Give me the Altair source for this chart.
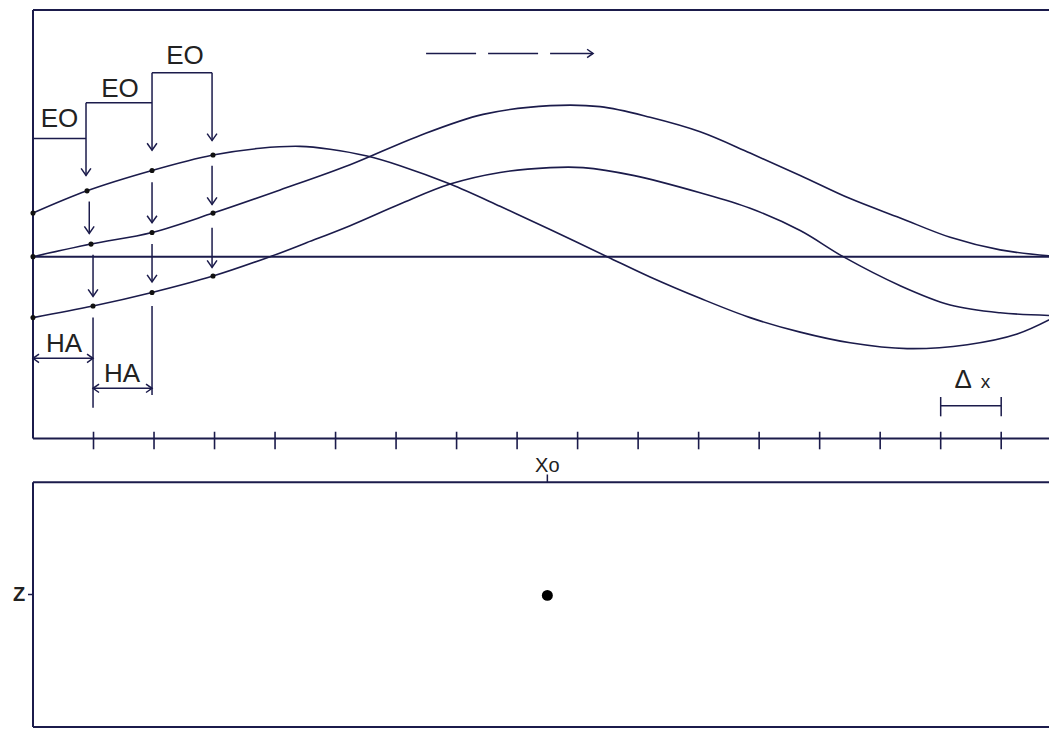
import altair as alt
import pandas as pd

INK = "#1b1b4b"
TXT = "#222222"
FONT = "Liberation Sans"

# ---- three wave curves (x in grid-step units, y relative to the centre line)
curve_a_x = [0, 0.893, 1.967, 2.975, 3.752, 4.413, 4.909, 5.521, 6.066, 6.893, 7.719, 8.545,
             9.488, 10.198, 11.025, 11.851, 12.678, 13.504, 14.446, 15.438, 16.264, 16.926]
curve_a_y = [0.744, 1.124, 1.471, 1.736, 1.851, 1.884, 1.835, 1.719, 1.554, 1.240, 0.860, 0.463,
             0.0, -0.347, -0.711, -1.041, -1.289, -1.471, -1.570, -1.504, -1.322, -1.008]
curve_b_x = [0, 0.959, 1.967, 2.975, 4.083, 5.240, 6.347, 7.438, 8.545, 9.372, 10.198, 11.025,
             11.851, 12.678, 13.504, 14.331, 15.157, 15.983, 16.926]
curve_b_y = [0.0, 0.215, 0.413, 0.744, 1.140, 1.570, 2.050, 2.430, 2.579, 2.562, 2.380, 2.132,
             1.769, 1.388, 0.992, 0.661, 0.331, 0.116, 0.0]
curve_c_x = [0, 0.992, 1.967, 2.975, 3.917, 4.5, 5.240, 6.066, 6.893, 7.719, 8.545, 9.091, 9.917,
             11.025, 11.851, 12.678, 13.388, 14.331, 15.157, 15.983, 16.926]
curve_c_y = [-1.041, -0.843, -0.612, -0.331, 0.0, 0.23, 0.53, 0.90, 1.240, 1.438, 1.521, 1.521, 1.388,
             1.091, 0.826, 0.446, 0.0, -0.496, -0.826, -0.959, -1.008]

# ---- frame lines: (x, x2, y, y2)
frame_x = [0, 0, 0, 0, 0, 0, 0]
frame_x2 = [0, 16.93, 16.93, 16.93, 16.93, 16.93, 0]
frame_y = [4.215, 4.215, -3.107, 0.0, -3.851, -8.033, -3.851]
frame_y2 = [-3.107, 4.215, -3.107, 0.0, -3.851, -8.033, -8.033]

# ---- grid ticks along the lower edge of the top panel
tick_pos = list(range(1, 17))
tick_top, tick_bottom = -2.99, -3.29

# ---- annotation lines: EO steps, arrows between curves, HA markers, delta-x bracket, small ticks
ann_x = [0, 0.876, 1.967, 0.876, 1.967, 2.959,
         0.93, 0.992, 1.967, 1.967, 2.959, 2.959,
         0.992, 1.967, 0, 0.992,
         15, 15, 16, 8.5, -0.083]
ann_x2 = [0.876, 1.967, 2.959, 0.876, 1.967, 2.959,
          0.93, 0.992, 1.967, 1.967, 2.959, 2.959,
          0.992, 1.967, 0.992, 1.967,
          16, 15, 16, 8.5, 0]
ann_y = [2.017, 2.628, 3.140, 2.628, 3.140, 3.140,
         0.942, 0.033, 1.273, 0.215, 1.554, 0.496,
         -1.041, -0.843, -1.736, -2.248,
         -2.545, -2.397, -2.397, -3.72, -5.77]
ann_y2 = [2.017, 2.628, 3.140, 1.388, 1.818, 1.983,
          0.397, -0.678, 0.579, -0.430, 0.893, -0.182,
          -2.579, -2.364, -1.736, -2.248,
          -2.545, -2.727, -2.727, -3.851, -5.77]

# ---- arrow heads
down_x = [0.876, 1.967, 2.959, 0.93, 0.992, 1.967, 1.967, 2.959, 2.959]
down_y = [1.388, 1.818, 1.983, 0.397, -0.678, 0.579, -0.430, 0.893, -0.182]
left_x = [0, 0.992]
left_y = [-1.736, -2.248]
right_x = [0.992, 1.967, 9.256]
right_y = [-1.736, -2.248, 3.471]

# ---- dashed direction arrow
dash_x, dash_x2, dash_y = 6.496, 9.256, 3.471

# ---- labels
label_text = ["EO", "EO", "EO", "HA", "HA", "Δ", "x", "Xo"]
label_x = [0.438, 1.438, 2.512, 0.512, 1.471, 15.37, 15.74, 8.5]
label_y = [2.215, 2.727, 3.289, -1.620, -2.149, -2.248, -2.248, -3.67]
label_size = [26, 26, 26, 26, 26, 26, 19, 20]

z_label, z_x, z_y = "Z", -0.13, -5.88
point_x, point_y = 8.5, -5.785

xs = alt.Scale(domain=[0, 16.79], nice=False, zero=False)
ys = alt.Scale(domain=[-8.05, 4.23], nice=False, zero=False)

def X(f):
    return alt.X(f, type="quantitative", scale=xs, axis=None)

def Y(f):
    return alt.Y(f, type="quantitative", scale=ys, axis=None)

curves = pd.concat([
    pd.DataFrame({"x": curve_a_x, "y": curve_a_y, "c": "A"}),
    pd.DataFrame({"x": curve_b_x, "y": curve_b_y, "c": "B"}),
    pd.DataFrame({"x": curve_c_x, "y": curve_c_y, "c": "C"}),
])
dots = pd.concat([
    pd.DataFrame({"x": curve_a_x[:4], "y": curve_a_y[:4]}),
    pd.DataFrame({"x": curve_b_x[:4], "y": curve_b_y[:4]}),
    pd.DataFrame({"x": curve_c_x[:4], "y": curve_c_y[:4]}),
])
frame = pd.DataFrame({"x": frame_x, "x2": frame_x2, "y": frame_y, "y2": frame_y2})
ticks = pd.DataFrame({"x": tick_pos, "y": [tick_top] * len(tick_pos), "y2": [tick_bottom] * len(tick_pos)})
ann = pd.DataFrame({"x": ann_x, "x2": ann_x2, "y": ann_y, "y2": ann_y2})
downs = pd.DataFrame({"x": down_x, "y": down_y})
lefts = pd.DataFrame({"x": left_x, "y": left_y})
rights = pd.DataFrame({"x": right_x, "y": right_y})
dash = pd.DataFrame({"x": [dash_x], "x2": [dash_x2], "y": [dash_y]})
labels = pd.DataFrame({"t": label_text, "x": label_x, "y": label_y, "s": label_size})
zlab = pd.DataFrame({"t": [z_label], "x": [z_x], "y": [z_y]})
pt = pd.DataFrame({"x": [point_x], "y": [point_y]})

curve_layer = alt.Chart(curves).mark_line(color=INK, strokeWidth=1.6, interpolate="catmull-rom").encode(
    x=X("x"), y=Y("y"), detail="c:N")
frame_layer = alt.Chart(frame).mark_rule(color=INK, strokeWidth=2).encode(
    x=X("x"), x2="x2", y=Y("y"), y2="y2")
tick_layer = alt.Chart(ticks).mark_rule(color=INK, strokeWidth=1.6).encode(
    x=X("x"), y=Y("y"), y2="y2")
ann_layer = alt.Chart(ann).mark_rule(color=INK, strokeWidth=1.5).encode(
    x=X("x"), x2="x2", y=Y("y"), y2="y2")
down_layer = alt.Chart(downs).mark_point(
    shape="M -0.7 -1 L 0 0 L 0.7 -1", size=196, filled=False, color=INK, strokeWidth=1.5, opacity=1
).encode(x=X("x"), y=Y("y"))
left_layer = alt.Chart(lefts).mark_point(
    shape="M 1 -0.7 L 0 0 L 1 0.7", size=144, filled=False, color=INK, strokeWidth=1.5, opacity=1
).encode(x=X("x"), y=Y("y"))
right_layer = alt.Chart(rights).mark_point(
    shape="M -1 -0.7 L 0 0 L -1 0.7", size=144, filled=False, color=INK, strokeWidth=1.5, opacity=1
).encode(x=X("x"), y=Y("y"))
dash_layer = alt.Chart(dash).mark_rule(color=INK, strokeWidth=1.6, strokeDash=[50, 12]).encode(
    x=X("x"), x2="x2", y=Y("y"))
dot_layer = alt.Chart(dots).mark_circle(color="#111111", size=26, opacity=1).encode(
    x=X("x"), y=Y("y"))
label_layer = alt.Chart(labels).mark_text(
    color=TXT, font=FONT, align="center", baseline="alphabetic"
).encode(x=X("x"), y=Y("y"), text="t:N", size=alt.Size("s:Q", scale=None))
z_layer = alt.Chart(zlab).mark_text(
    color=TXT, font=FONT, fontSize=20, fontWeight="bold", align="right", baseline="alphabetic"
).encode(x=X("x"), y=Y("y"), text="t:N")
pt_layer = alt.Chart(pt).mark_circle(color="#000000", size=120, opacity=1).encode(
    x=X("x"), y=Y("y"))

chart = alt.layer(
    frame_layer, curve_layer, tick_layer, ann_layer, dash_layer,
    down_layer, left_layer, right_layer, dot_layer, label_layer, z_layer, pt_layer
).properties(
    width=1016, height=719,
    autosize=alt.AutoSizeParams(type="none"),
    padding={"left": 25, "top": 1, "right": 0, "bottom": 2},
).configure_view(stroke=None)

chart.save("out.html", embed_options={"renderer": "svg", "actions": False})
